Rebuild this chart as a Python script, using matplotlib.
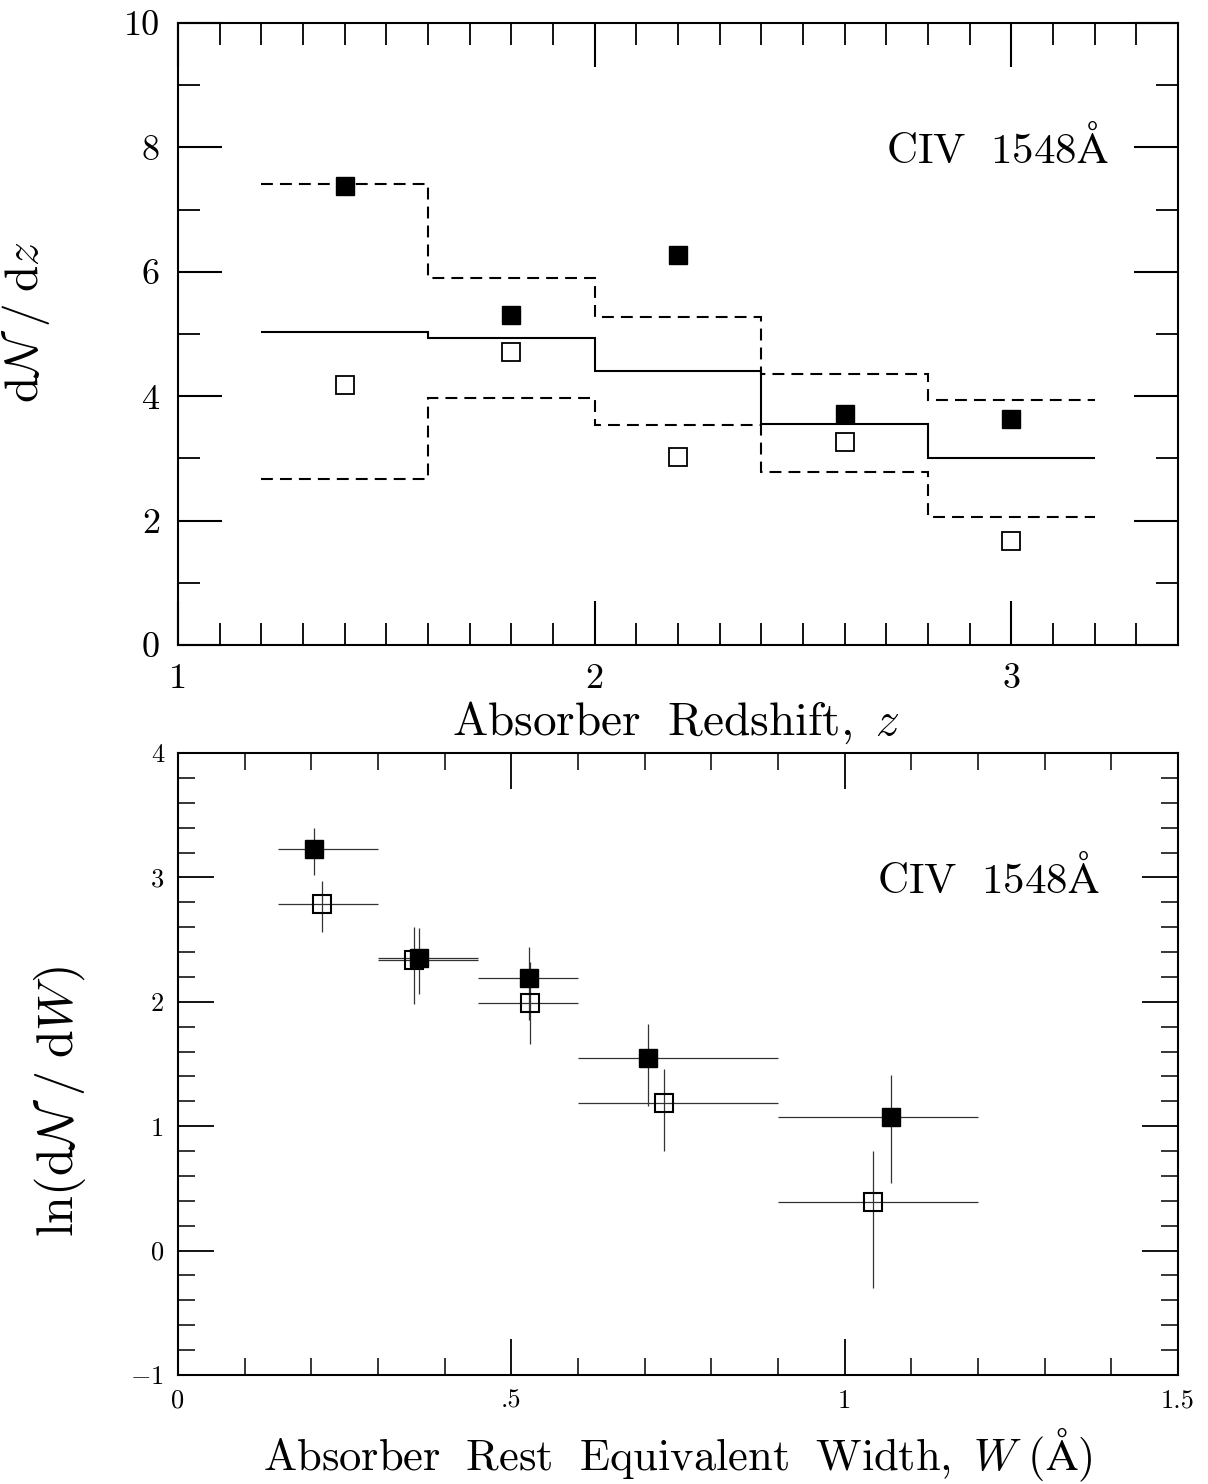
import numpy as np
import matplotlib
matplotlib.use("Agg")
import matplotlib.pyplot as plt
from matplotlib.ticker import MultipleLocator, FixedLocator, FixedFormatter

plt.rcParams['mathtext.fontset'] = 'cm'
plt.rcParams['font.family'] = 'cmr10'
plt.rcParams['axes.unicode_minus'] = False

# --- top panel: dN/dz vs z ---
z_edges = [1.2, 1.6, 2.0, 2.4, 2.8, 3.2]
z_mid = [1.4, 1.8, 2.2, 2.6, 3.0]
dndz_model = [5.03, 4.93, 4.40, 3.56, 3.00]
dndz_hi = [7.41, 5.90, 5.27, 4.35, 3.94]
dndz_lo = [2.67, 3.97, 3.54, 2.78, 2.06]
dndz_filled = [7.38, 5.31, 6.27, 3.72, 3.64]
dndz_open = [4.18, 4.71, 3.03, 3.27, 1.67]

# --- bottom panel: ln(dN/dW) vs W ---
w_filled = [0.204, 0.361, 0.527, 0.705, 1.070]
lnw_filled = [3.23, 2.355, 2.19, 1.546, 1.07]
lnw_filled_top = [3.40, 2.59, 2.44, 1.82, 1.41]
lnw_filled_bot = [3.02, 2.06, 1.85, 1.16, 0.54]
w_open = [0.216, 0.354, 0.528, 0.729, 1.042]
lnw_open = [2.79, 2.34, 1.99, 1.19, 0.39]
lnw_open_top = [2.97, 2.60, 2.32, 1.46, 0.80]
lnw_open_bot = [2.56, 1.98, 1.66, 0.80, -0.30]
w_bin_lo = [0.15, 0.30, 0.45, 0.60, 0.90]
w_bin_hi = [0.30, 0.45, 0.60, 0.90, 1.20]

fig = plt.figure(figsize=(12.08, 14.84), dpi=100)
ax1 = fig.add_axes([178/1208, 1-645/1484, 1000/1208, 622/1484])
ax2 = fig.add_axes([178/1208, 1-1375/1484, 1000/1208, 622/1484])

dash = (0, (5.7, 3.4))
ax1.stairs(dndz_model, z_edges, baseline=None, color='k', lw=1.5)
ax1.stairs(dndz_hi, z_edges, baseline=None, color='k', lw=1.5, linestyle=dash)
ax1.stairs(dndz_lo, z_edges, baseline=None, color='k', lw=1.5, linestyle=dash)
ax1.plot(z_mid, dndz_filled, 's', color='k', ms=13, zorder=5)
ax1.plot(z_mid, dndz_open, 's', mfc='white', mec='k', mew=1.3, ms=13, zorder=5)

ax1.set_xlim(1, 3.4)
ax1.set_ylim(0, 10)
ax1.xaxis.set_major_locator(FixedLocator([1, 2, 3]))
ax1.xaxis.set_major_formatter(FixedFormatter(['1', '2', '3']))
ax1.xaxis.set_minor_locator(MultipleLocator(0.1))
ax1.yaxis.set_major_locator(MultipleLocator(2))
ax1.yaxis.set_minor_locator(MultipleLocator(1))
ax1.set_xlabel(r'$\mathrm{Absorber\ \ Redshift,}\ z$', fontsize=34)
ax1.xaxis.set_label_coords(0.498, -0.088)
ax1.set_ylabel(r'$\mathrm{d}\mathcal{N}\;/\;\mathrm{d}z$', fontsize=34)
ax1.yaxis.set_label_coords(-0.126, 0.52)
ax1.text(0.819, 0.8, r'$\mathrm{CIV\ \ 1548\AA}$', transform=ax1.transAxes,
         fontsize=31, ha='center', va='center')
ax1.tick_params(which='major', direction='in', length=32, width=1.5,
                top=True, right=True, labelsize=26, pad=13)
ax1.tick_params(which='minor', direction='in', length=16, width=1.3,
                top=True, right=True)

# bottom panel
for x, y, t, b, lo, hi in zip(w_filled, lnw_filled, lnw_filled_top, lnw_filled_bot, w_bin_lo, w_bin_hi):
    ax2.errorbar(x, y, yerr=[[y - b], [t - y]], xerr=[[x - lo], [hi - x]],
                 fmt='none', ecolor='#333333', elinewidth=0.9, capsize=0)
for x, y, t, b, lo, hi in zip(w_open, lnw_open, lnw_open_top, lnw_open_bot, w_bin_lo, w_bin_hi):
    ax2.errorbar(x, y, yerr=[[y - b], [t - y]], xerr=[[x - lo], [hi - x]],
                 fmt='none', ecolor='#333333', elinewidth=0.9, capsize=0)
ax2.plot(w_open, lnw_open, 's', mfc='none', mec='k', mew=1.5, ms=13, zorder=5)
ax2.plot(w_filled, lnw_filled, 's', color='k', ms=13, zorder=6)

ax2.set_xlim(0, 1.5)
ax2.set_ylim(-1, 4)
ax2.xaxis.set_major_locator(FixedLocator([0, 0.5, 1, 1.5]))
ax2.xaxis.set_major_formatter(FixedFormatter(['0', '.5', '1', '1.5']))
ax2.xaxis.set_minor_locator(MultipleLocator(0.1))
ax2.yaxis.set_major_locator(FixedLocator([-1, 0, 1, 2, 3, 4]))
ax2.yaxis.set_major_formatter(FixedFormatter([r'$-1$', '0', '1', '2', '3', '4']))
ax2.yaxis.set_minor_locator(MultipleLocator(0.2))
ax2.set_xlabel(r'$\mathrm{Absorber\ \ Rest\ \ Equivalent\ \ Width,}\ W\ \mathrm{(\AA)}$',
               fontsize=32)
ax2.xaxis.set_label_coords(0.5, -0.082)
ax2.set_ylabel(r'$\ln(\mathrm{d}\mathcal{N}\;/\;\mathrm{d}W)$', fontsize=36)
ax2.yaxis.set_label_coords(-0.09, 0.44)
ax2.text(0.81, 0.8, r'$\mathrm{CIV\ \ 1548\AA}$', transform=ax2.transAxes,
         fontsize=31, ha='center', va='center')
ax2.tick_params(which='major', direction='in', length=26, width=1.3,
                top=True, right=True, labelsize=19, pad=10)
ax2.tick_params(which='minor', direction='in', length=12, width=1.1,
                top=True, right=True)

for ax in (ax1, ax2):
    for s in ax.spines.values():
        s.set_linewidth(1.5)

fig.savefig('out.png', dpi=100)
